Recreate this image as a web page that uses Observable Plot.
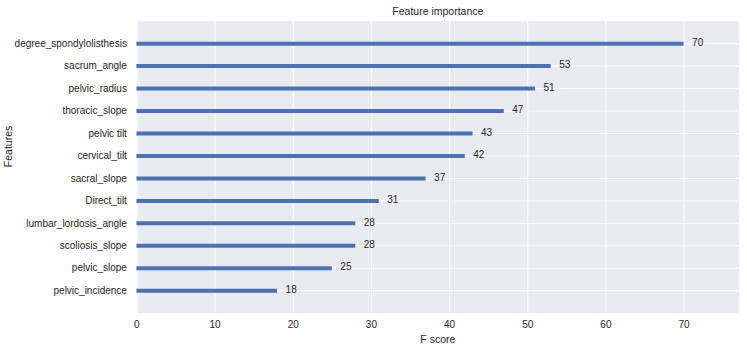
<!DOCTYPE html>
<html>
<head>
<meta charset="utf-8">
<script src="https://cdn.jsdelivr.net/npm/d3@7"></script>
<script src="https://cdn.jsdelivr.net/npm/@observablehq/plot@0.6"></script>
<style>
  html, body { margin: 0; padding: 0; background: #ffffff; }
  #chart svg { display: block; }
</style>
</head>
<body>
<div id="chart"></div>
<script>
// Features, top to bottom
const features = [
  "degree_spondylolisthesis",
  "sacrum_angle",
  "pelvic_radius",
  "thoracic_slope",
  "pelvic tilt",
  "cervical_tilt",
  "sacral_slope",
  "Direct_tilt",
  "lumbar_lordosis_angle",
  "scoliosis_slope",
  "pelvic_slope",
  "pelvic_incidence"
];
const fScores = [70, 53, 51, 47, 43, 42, 37, 31, 28, 28, 25, 18];
const xTicks = [0, 10, 20, 30, 40, 50, 60, 70];

const title = "Feature importance";
const xLabel = "F score";
const yLabel = "Features";

const data = features.map((name, i) => ({name, value: fScores[i]}));

const textColor = "#262626";
const font = "'Liberation Sans', Arial, sans-serif";

const chart = Plot.plot({
  width: 747,
  height: 356,
  marginTop: 20.7,
  marginBottom: 43.3,
  marginLeft: 136.4,
  marginRight: 8.7,
  style: {fontFamily: font, fontSize: "10px", color: textColor, background: "#ffffff"},
  x: {domain: [0, 77], ticks: xTicks, label: null},
  y: {type: "point", domain: features, padding: 1, round: false, label: null},
  marks: [
    Plot.frame({fill: "#EAEAF2", stroke: null}),
    Plot.gridX(xTicks, {stroke: "#ffffff", strokeOpacity: 1, strokeWidth: 1}),
    Plot.gridY(features, {stroke: "#ffffff", strokeOpacity: 1, strokeWidth: 1}),
    Plot.ruleY(data, {y: "name", x1: 0, x2: "value", stroke: "#4C72B0", strokeWidth: 4}),
    Plot.text(data, {x: "value", y: "name", text: d => String(d.value), dx: 8, dy: -1,
      textAnchor: "start", fill: textColor, fontSize: 10}),
    Plot.axisX(xTicks, {tickSize: 0, tickPadding: 8, label: null, fontSize: 10}),
    Plot.axisY(features, {tickSize: 0, tickPadding: 10, label: null, fontSize: 10}),
    Plot.text([title], {frameAnchor: "top", dy: -10, lineAnchor: "middle", fontSize: 10.5, fill: textColor}),
    Plot.text([xLabel], {frameAnchor: "bottom", dy: 26, lineAnchor: "middle", fontSize: 10.5, fill: textColor}),
    Plot.text([yLabel], {frameAnchor: "left", dx: -128, rotate: -90, lineAnchor: "middle", fontSize: 10.5, fill: textColor})
  ]
});
document.getElementById("chart").appendChild(chart);
</script>
</body>
</html>
